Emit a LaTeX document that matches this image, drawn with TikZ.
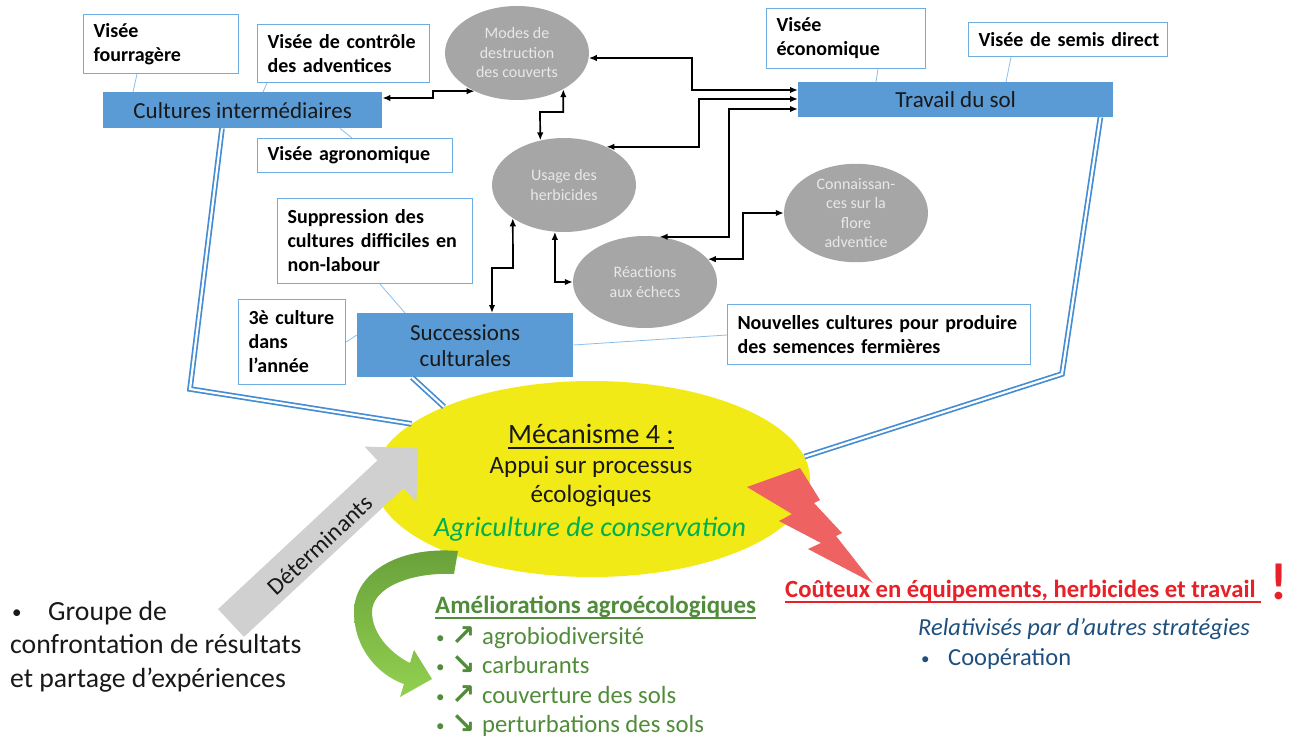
\documentclass[tikz,border=0pt]{standalone}
\usepackage{fontspec}
\setmainfont{Carlito}
\newfontfamily\symfont{DejaVu Sans}
\usetikzlibrary{shapes.geometric,arrows.meta}
\definecolor{bordblue}{RGB}{110,172,228}
\definecolor{fillblue}{RGB}{91,155,213}
\definecolor{linkblue}{RGB}{140,192,236}
\definecolor{dblue}{RGB}{68,140,212}
\definecolor{ellgrey}{RGB}{166,166,166}
\definecolor{elltext}{RGB}{232,232,232}
\definecolor{yell}{RGB}{242,234,22}
\definecolor{agrgreen}{RGB}{0,176,80}
\definecolor{amgreen}{RGB}{80,140,58}
\definecolor{gdark}{RGB}{104,160,58}
\definecolor{glight}{RGB}{146,208,80}
\definecolor{boltred}{RGB}{238,98,98}
\definecolor{costred}{RGB}{232,32,40}
\definecolor{relblue}{RGB}{31,80,125}
\definecolor{arrgrey}{RGB}{208,208,208}
\definecolor{txtdark}{RGB}{25,25,25}
\begin{document}
\begin{tikzpicture}[x=1pt,y=-1pt,
  vbox/.style={draw=bordblue, line width=1.1pt, fill=white, anchor=north west, inner xsep=10pt, inner ysep=0pt, align=left, font=\fontsize{20}{24}\selectfont\bfseries, text=black},
  bbox/.style={fill=fillblue, anchor=north west, align=center, inner sep=0pt, font=\fontsize{23}{26}\selectfont, text=txtdark},
  gell/.style={ellipse, fill=ellgrey, align=center, inner sep=0pt, minimum width=144pt, minimum height=94pt, font=\fontsize{16}{19.5}\selectfont, text=elltext},
  conn/.style={line width=1.7pt, draw=black, {Latex[length=8pt,width=6.5pt]}-{Latex[length=8pt,width=6.5pt]}},
  link/.style={draw=linkblue, line width=0.8pt},
  dline/.style={draw=dblue, line width=1.7pt, double=white, double distance=2.2pt},
  txt/.style={anchor=base west, inner sep=0pt}
]
\fill[white] (0,0) rectangle (1293,738);
\useasboundingbox (0,0) rectangle (1293,738);

% boxes
\node[vbox, text width=135pt, minimum height=59pt] (vf) at (83,14) {Visée\\fourragère};
\node[vbox, text width=152pt, minimum height=58pt] (vc) at (257,24) {\mbox{Visée de contrôle}\\des adventices};
\node[bbox, minimum width=279pt, minimum height=36pt] (ci) at (103,92) {Cultures intermédiaires};
\node[vbox, text width=175pt, minimum height=34pt] (va) at (257,138) {\mbox{Visée agronomique}};
\node[vbox, text width=139pt, minimum height=60pt] (ve) at (766,8) {Visée\\économique};
\node[vbox, text width=179pt, minimum height=34pt] (vs) at (968,22) {\mbox{Visée de semis direct}};
\node[bbox, minimum width=315pt, minimum height=35pt] (ts) at (798,82) {Travail du sol};
\node[vbox, text width=175pt, minimum height=85pt] (sd) at (277,198) {\mbox{Suppression des}\\\mbox{cultures difficiles en}\\non-labour};
\node[vbox, text width=87pt, minimum height=85pt] (c3) at (238,299) {\mbox{3è culture}\\dans\\l’année};
\node[bbox, minimum width=216pt, minimum height=64pt] (sc) at (357,313) {Successions\\culturales};
\node[vbox, text width=283pt, minimum height=60pt] (nc) at (727,304) {\mbox{Nouvelles cultures pour produire}\\\mbox{des semences fermières}};

% grey ellipses
\node[gell] (md) at (517,53) {Modes de\\destruction\\des couverts};
\node[gell] (uh) at (564,185) {Usage des\\herbicides};
\node[gell] (kn) at (856,213) {Connaissan-\\ces sur la\\flore\\adventice};
\node[gell, minimum height=92pt] (re) at (645,282) {Réactions\\aux échecs};

% thin links
\draw[link] ([xshift=54pt]vf.south west) -- ([xshift=30pt]ci.north west);
\draw[link] ([xshift=10pt]vc.south west) -- ([xshift=160pt]ci.north west);
\draw[link] ([xshift=237pt]ci.south west) -- ([xshift=95pt]va.north west);
\draw[link] ([xshift=112pt]ve.south west) -- ([xshift=78pt]ts.north west);
\draw[link] ([xshift=43pt]vs.south west) -- ([xshift=208pt]ts.north west);
\draw[link] ([xshift=103pt]sd.south west) -- ([xshift=48pt]sc.north west);
\draw[link] ([yshift=-43pt]c3.north east) -- ([yshift=-22pt]sc.north west);
\draw[link] ([yshift=-32pt]sc.north east) -- ([yshift=-31pt]nc.north west);

% black connectors
\draw[conn] ([yshift=-6pt]ci.north east) -- (433,98) |- (md.222);
\draw[conn] (md.-4) -| (692,90) -- ([yshift=-8pt]ts.north west);
\draw[conn] (md.-38) |- (540,112) -- (uh.118);
\draw[conn] (uh.42) -| (699,99) -- ([yshift=-17pt]ts.north west);
\draw[conn] (re.72) -| (729,109) -- ([yshift=-27pt]ts.north west);
\draw[conn] (re.20) -| (743,213) -- (kn.west);
\draw[conn] (uh.259) |- (re.west);
\draw[conn] ([xshift=135pt]sc.north west) |- (513,268) -- (uh.213);

% central ellipse
\node[ellipse, fill=yell, minimum width=436pt, minimum height=196pt, inner sep=0pt] (mech) at (592,479) {};
\draw[dline] ([xshift=119pt]ci.south west) -- (190,389) -- (mech.163);
\draw[dline] ([xshift=55pt]sc.south west) -- (mech.154);
\draw[dline] ([xshift=-13pt]ts.south east) -- (1062,374) -- (mech.6);

\node[txt, anchor=base, font=\fontsize{28}{32}\selectfont, text=txtdark] (m1) at (591,443) {Mécanisme 4 :};
\draw[txtdark, line width=1.4pt] ([yshift=-5pt]m1.base west) -- ([yshift=-5pt]m1.base east);
\node[txt, anchor=base, font=\fontsize{25}{29}\selectfont, text=txtdark] (m2) at (591,473) {Appui sur processus};
\node[txt, anchor=base, font=\fontsize{25}{29}\selectfont, text=txtdark] (m3) at (591,502) {écologiques};
\node[txt, anchor=base, font=\fontsize{28}{32}\selectfont\itshape, text=agrgreen] (m4) at (590,536) {Agriculture de conservation};

% grey arrow
\begin{scope}[shift={(231,623)}, rotate=43]
\fill[arrgrey] (0,-19) -- (218,-19) -- (218,-38) -- (256,0) -- (218,38) -- (218,19) -- (0,19) -- cycle;
\end{scope}
\node[rotate=43, inner sep=0pt, font=\fontsize{24}{28}\selectfont, text=txtdark] (det) at (320,545) {Déterminants};

% lightning
\fill[boltred] (747,487) -- (800,468) -- (820,500) -- (814,503) -- (842,533) -- (836,536) -- (873,583) -- (808,549) -- (821,543) -- (779,521) -- (792,514) -- cycle;

% green curved arrow
\shade[top color=gdark, bottom color=glight] (458,551) .. controls (395,546) and (354,575) .. (354,612) .. controls (354,648) and (378,675) .. (404,684) -- (400,697) -- (432,679) -- (414,650) -- (410,663) .. controls (388,652) and (372,632) .. (372,612) .. controls (372,588) and (410,572) .. (454,574) -- cycle;

% bottom-left text
\node[txt, font=\fontsize{19}{33}\selectfont, text=txtdark] (gb) at (12,618) {•};
\node[txt, font=\fontsize{27.7}{33}\selectfont, text=txtdark] (g1) at (48,620) {Groupe de};
\node[txt, font=\fontsize{27.7}{33}\selectfont, text=txtdark] (g2) at (10,653) {confrontation de résultats};
\node[txt, font=\fontsize{27.7}{33}\selectfont, text=txtdark] (g3) at (10,687) {et partage d’expériences};

% ameliorations
\node[txt, font=\fontsize{25}{29}\selectfont\bfseries, text=amgreen] (am) at (435,613) {Améliorations agroécologiques};
\draw[amgreen, line width=1.2pt] ([yshift=-5pt]am.base west) -- ([yshift=-5pt]am.base east);
\foreach \y/\a/\t [count=\i] in {644/↗/agrobiodiversité, 673.5/↘/carburants, 703/↗/couverture des sols, 732.5/↘/perturbations des sols}{
  \node[txt, font=\fontsize{17}{20}\selectfont, text=amgreen] (ab\i) at (436,\y-1) {•};
  \node[txt, font=\fontsize{29}{32}\selectfont\symfont\bfseries, text=amgreen] (aa\i) at (451,\y+1) {\a};
  \node[txt, font=\fontsize{24.7}{29}\selectfont, text=amgreen] (at\i) at (482,\y) {\t};
}

% costs
\node[txt, font=\fontsize{24.7}{29}\selectfont\bfseries, text=costred] (co) at (785,597) {Coûteux en équipements, herbicides et travail};
\draw[costred, line width=1.3pt] ([yshift=-5pt]co.base west) -- ([yshift=-5pt,xshift=5pt]co.base east);
\node[txt, anchor=base, font=\fontsize{52}{60}\selectfont\bfseries, text=costred] (ex) at (1279,599) {!};
\node[txt, font=\fontsize{24.5}{29}\selectfont\itshape, text=relblue] (rel) at (918,635) {Relativisés par d’autres stratégies};
\node[txt, font=\fontsize{17}{27}\selectfont, text=relblue] (cb) at (921,664) {•};
\node[txt, font=\fontsize{24.5}{29}\selectfont, text=relblue] (coop) at (948,665) {Coopération};
\end{tikzpicture}
\end{document}
